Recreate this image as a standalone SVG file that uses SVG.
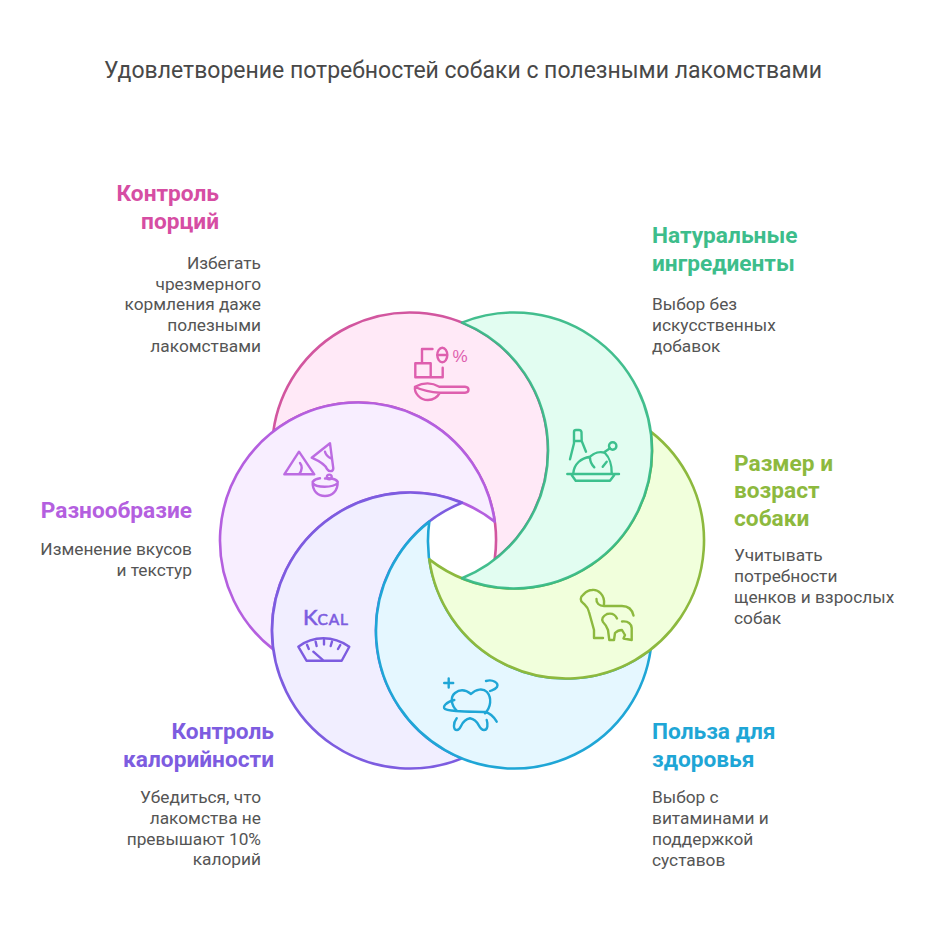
<svg xmlns="http://www.w3.org/2000/svg" width="940" height="926" viewBox="0 0 940 926">
<style>
text{font-family:Roboto,"Noto Sans",sans-serif}
.title{font-size:23px;fill:#484848}
.h{font-size:22.7px;font-weight:700}
.b{font-size:17.3px;fill:#555}
.e{text-anchor:end}
.c{stroke-width:2.6;stroke-linejoin:round}
.i{fill:none;stroke-width:2.4;stroke-linecap:round;stroke-linejoin:round}
.pink{fill:#D64DA3}.green{fill:#3DBD8B}.yellow{fill:#8DB93E}.blue{fill:#1FA6D6}.indigo{fill:#7D5CE0}.purple{fill:#B45FDF}
</style>
<rect width="940" height="926" fill="#fff"/>
<text class="title" x="463" y="78" text-anchor="middle">Удовлетворение потребностей собаки с полезными лакомствами</text>
<g id="connectors">
<path id="c-pink" class="c" fill="#FFE9F7" stroke="#D2569F" d="M273.3 431.6A138 138 0 1 1 494.7 559.4A138 138 0 0 0 273.3 431.6Z"/>
<path id="c-purple" class="c" fill="#F8EEFF" stroke="#B45FDF" d="M273.3 649.4A138 138 0 1 1 494.7 521.6A138 138 0 0 0 273.3 649.4Z"/>
<path id="c-indigo" class="c" fill="#F1EEFF" stroke="#7D5CE0" d="M462 758.4A138 138 0 1 1 462 502.7A138 138 0 0 0 462 758.4Z"/>
<path id="c-blue" class="c" fill="#E5F7FF" stroke="#1FA6D6" d="M650.7 649.4A138 138 0 1 1 429.3 521.6A138 138 0 0 0 650.7 649.4Z"/>
<path id="c-yellow" class="c" fill="#F1FFDC" stroke="#8DB93E" d="M650.7 431.6A138 138 0 1 1 429.3 559.4A138 138 0 0 0 650.7 431.6Z"/>
<path id="c-green" class="c" fill="#E2FDF1" stroke="#35B985" stroke-opacity=".93" d="M462 322.6A138 138 0 1 1 462 578.3A138 138 0 0 0 462 322.6Z"/>
</g>
<g id="node-portion">
<text class="h pink e" x="219" y="201">Контроль</text>
<text class="h pink e" x="219" y="229">порций</text>
<text class="b e" x="261" y="269">Избегать</text>
<text class="b e" x="261" y="290">чрезмерного</text>
<text class="b e" x="261" y="310">кормления даже</text>
<text class="b e" x="261" y="331">полезными</text>
<text class="b e" x="261" y="352">лакомствами</text>
<g class="i" stroke="#DE5FAE">
<path d="M432.5 349H422V363.3M415.3 363.3H430.7V377.3H415.3ZM430.7 377.3H442.7V367.7"/>
<ellipse cx="442.3" cy="355" rx="5" ry="7.3"/><path d="M437.5 355H447"/>
<path d="M415 386.7Q428 380 439.3 386.7H465Q468.5 387 468.5 389.7T465 392.7H440C437 398 432 400 428 400C420 400 414 393 415 386.7ZM415 387Q426 392 440 392.7"/>
</g>
<text x="452.5" y="362" font-size="17" fill="#DE5FAE" style="font-family:'Liberation Sans',sans-serif">%</text>
</g>
<g id="node-natural">
<text class="h green" x="652" y="243">Натуральные</text>
<text class="h green" x="652" y="271">ингредиенты</text>
<text class="b" x="652" y="310">Выбор без</text>
<text class="b" x="652" y="331">искусственных</text>
<text class="b" x="652" y="352">добавок</text>
<g class="i" stroke="#3DC08E">
<path d="M570 459.3L574 443.3V432Q574 430 576 430H579Q581 430 581.5 432L581.7 441L586 451.7M574 441H581.7"/>
<path d="M567.3 474H619M571.7 475L575.7 480.7H610L614.3 475"/>
<path d="M573.3 473.3C574 464 581 458 590 456.7C594 453 600 451 605 453C609 457 612 465 611.7 473.3M590 457.5C590 461 592 465 594.3 467.3M606.7 461.7L602.7 466.7M604.5 452L610 448.3"/>
<circle cx="612.7" cy="446" r="3.7"/>
</g>
</g>
<g id="node-size">
<text class="h yellow" x="734" y="471">Размер и</text>
<text class="h yellow" x="734" y="498">возраст</text>
<text class="h yellow" x="734" y="526">собаки</text>
<text class="b" x="734" y="561">Учитывать</text>
<text class="b" x="734" y="582">потребности</text>
<text class="b" x="734" y="603">щенков и взрослых</text>
<text class="b" x="734" y="624">собак</text>
<g class="i" stroke="#8DB93E">
<path d="M633.5 615.5C632 609 628 606 622 606H604C599 606 596 603 596.5 599M604 604C605 595 598 589 592 590C587 590 585 593 583 595C580 597 580 601 583 603C586 606 588 607 589 612L594 630V638H603"/>
<path d="M617 618.5C615 614 611 613 607 614C603 616 601 619 603 622C606 625 607 627 608 630L609.3 640H614L615 633C617 631 620 630 622 630L625 635L623.5 638.5L631.7 640V628C631 623 627 621 622 621.5"/>
</g>
</g>
<g id="node-health">
<text class="h blue" x="652" y="739">Польза для</text>
<text class="h blue" x="652" y="767">здоровья</text>
<text class="b" x="652" y="803">Выбор с</text>
<text class="b" x="652" y="824">витаминами и</text>
<text class="b" x="652" y="845">поддержкой</text>
<text class="b" x="652" y="866">суставов</text>
<g class="i" stroke="#1FA6D6">
<path d="M444.2 683H453.2M448.7 678.5V687.5"/>
<path d="M456.7 710.7C451 705 450 697 455 693C460 689 466 690 471 694C476 689 483 688 487 692C492 698 491 707 485 713.3"/>
<path d="M486 681C493 679 499 683 497 687C495 690 492 690 490 691M454.3 700C446 702 442 707 445 709C448 711 452 710 456 711C468 712 478 711.5 485 712C490 713 494 717 496.7 721.7"/>
<path d="M456.7 718.3C453 723 453 730 457 730C462 730 460 720 470 718.3C480 720 478 730 484 730C488 730 488 724 486.7 720"/>
</g>
</g>
<g id="node-calories">
<text class="h indigo e" x="274" y="739">Контроль</text>
<text class="h indigo e" x="274" y="767">калорийности</text>
<text class="b e" x="261" y="803">Убедиться, что</text>
<text class="b e" x="261" y="824">лакомства не</text>
<text class="b e" x="261" y="845">превышают 10%</text>
<text class="b e" x="261" y="865">калорий</text>
<text x="303" y="625" font-size="22" fill="#7D5CE0" stroke="#7D5CE0" stroke-width=".6" style="font-family:Lato,sans-serif">K<tspan font-size="15.5" letter-spacing=".8">CAL</tspan></text>
<g class="i" stroke="#7D5CE0">
<path d="M298.3 646.7C306 641 314 638.3 323.3 638.3S341 641 349.3 646.7L341.7 660.7H306.5Z"/>
<path d="M313.3 651.7L322.7 659.8M307 644.8L308.8 649M315.6 641.6L316.6 646M324 640V644.4M332 641.6L330.7 646M340.3 645L338 649"/>
</g>
</g>
<g id="node-variety">
<text class="h purple e" x="192" y="518">Разнообразие</text>
<text class="b e" x="192" y="555">Изменение вкусов</text>
<text class="b e" x="192" y="576">и текстур</text>
<g class="i" stroke="#BC6BE2">
<path d="M284.3 474.3L299 451.7L314.3 474.3ZM300 463Q304 468 299 474.3"/>
<path d="M311.7 457.7L330 443.3L333.3 468.3C333 472 329 472 327 469C325 464 319 461 311.7 457.7ZM325 451.7Q326 456 331 458.3"/>
<path d="M312.7 481.7C312 491 318 496 325 496S338 491 337.7 481.7C335 478 328 478 325 478.5M312.7 481.7C315 479 318 478.5 320 478.3M312.7 483C316 488 333 488 337.7 483"/>
<circle cx="329.3" cy="477" r="2.4"/>
</g>
</g>
</svg>
